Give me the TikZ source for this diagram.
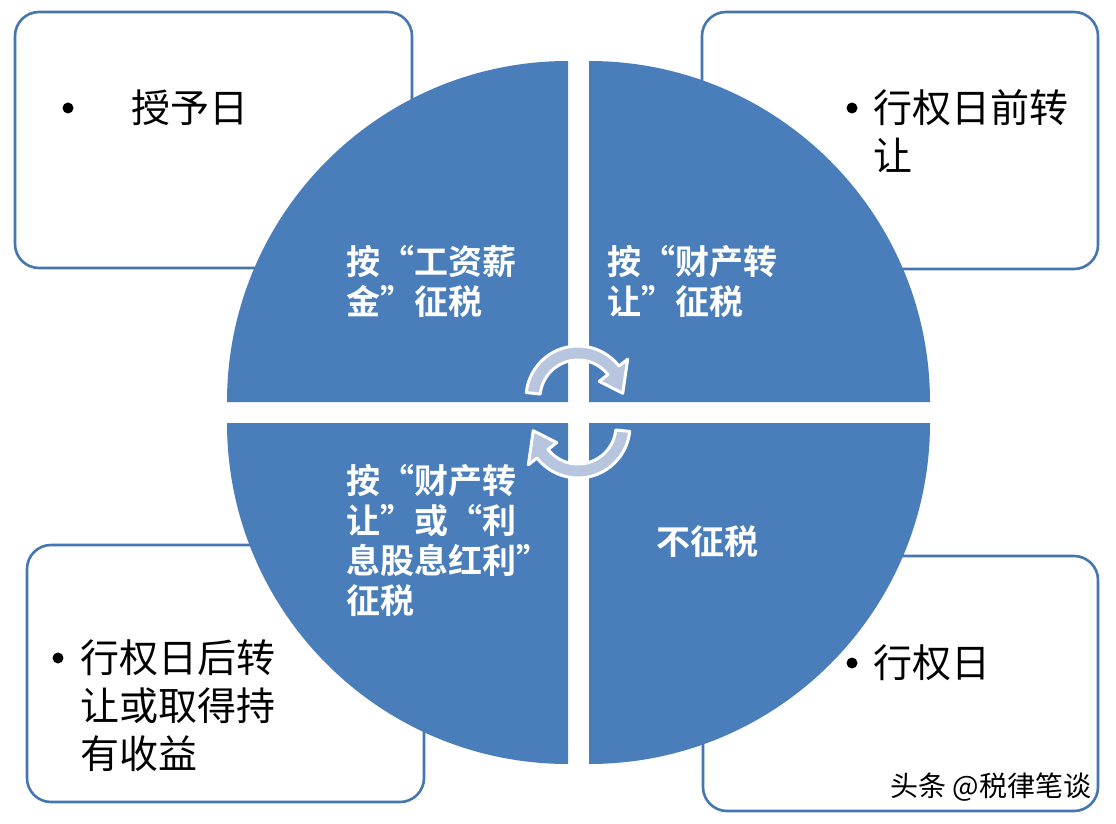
\documentclass[tikz,border=0pt]{standalone}
\usepackage{fontspec}
\newfontfamily\cjk{Noto Sans CJK SC}[BoldFont={Noto Sans CJK SC Bold}]
\newfontfamily\cjkwide{Noto Sans CJK SC}[BoldFont={Noto Sans CJK SC Bold}, RawFeature=+fwid]
\definecolor{cblue}{HTML}{4A7EBB}
\definecolor{cframe}{HTML}{4676B2}
\definecolor{cturn}{HTML}{B7C6DE}
\tikzset{
  every picture/.style={line width=1.2pt},
  panel/.style={draw=cframe, fill=white, rounded corners=24pt, line width=2.6pt},
  quarter/.style={fill=cblue},
  bulletdot/.style={circle, fill=black, inner sep=0pt, minimum size=11pt},
  itemtext/.style={font=\cjk\fontsize{39}{48}\selectfont, align=left, inner sep=0pt},
  taxtext/.style={font=\cjkwide\bfseries\fontsize{34}{40}\selectfont, text=white, align=left, inner sep=0pt},
  cyclearrow/.style={fill=cturn, draw=white, line width=3pt, line join=round},
}
\newcommand{\swaparrow}[3]{% x, y, rotation
  \begin{scope}[shift={(#1,#2)}, rotate=#3]
    \filldraw[cyclearrow] (186:52) arc[start angle=186, end angle=322, radius=52]
      -- (322:63) -- (354:45) -- (322:27) -- (322:38)
      arc[start angle=322, end angle=186, radius=38] -- cycle;
  \end{scope}}

\begin{document}
\begin{tikzpicture}[x=1pt, y=-1pt]
  \useasboundingbox[fill=white] (0,0) rectangle (1116,824);
  % four boxes at the corners
  \draw[panel] (15,12) rectangle (412,268);
  \draw[panel] (702,12) rectangle (1098,269);
  \draw[panel] (27,545) rectangle (424,802);
  \draw[panel] (703,556) rectangle (1098,811);
  % circle cut in four quarters
  \fill[quarter] (568,402) -- (227,402) arc[start angle=180, end angle=270, radius=341] -- cycle;
  \fill[quarter] (589,402) -- (589,61) arc[start angle=270, end angle=360, radius=341] -- cycle;
  \fill[quarter] (568,423) -- (568,764) arc[start angle=90, end angle=180, radius=341] -- cycle;
  \fill[quarter] (589,423) -- (930,423) arc[start angle=0, end angle=90, radius=341] -- cycle;
  % turning arrows in the middle
  \swaparrow{578}{398}{0}
  \swaparrow{578}{426}{180}
  % box texts
  \node[bulletdot] (tl-dot) at (68,108) {};
  \node[itemtext, anchor=west] (tl-text) at (131,108) {授予日};
  \node[bulletdot] (tr-dot) at (852,108) {};
  \node[itemtext, anchor=north west] (tr-text) at (873,89) {行权日前转\\让};
  \node[bulletdot] (bl-dot) at (58,658) {};
  \node[itemtext, anchor=north west] (bl-text) at (80,639) {行权日后转\\让或取得持\\有收益};
  \node[bulletdot] (br-dot) at (852,663) {};
  \node[itemtext, anchor=west] (br-text) at (873,663) {行权日};
  % quarter texts
  \node[taxtext, anchor=north west] (tl-tax) at (346,245) {按“工资薪\\金”征税};
  \node[taxtext, anchor=north west] (tr-tax) at (607,245) {按“财产转\\让”征税};
  \node[taxtext, anchor=north west] (bl-tax) at (346,464) {按“财产转\\让”或“利\\息股息红利”\\征税};
  \node[taxtext, anchor=west] (br-tax) at (656,542) {不征税};
  \node[font=\cjk\fontsize{28}{30}\selectfont, anchor=east, inner sep=0pt] (mark) at (1092,787) {头条 @税律笔谈};
\end{tikzpicture}
\end{document}
